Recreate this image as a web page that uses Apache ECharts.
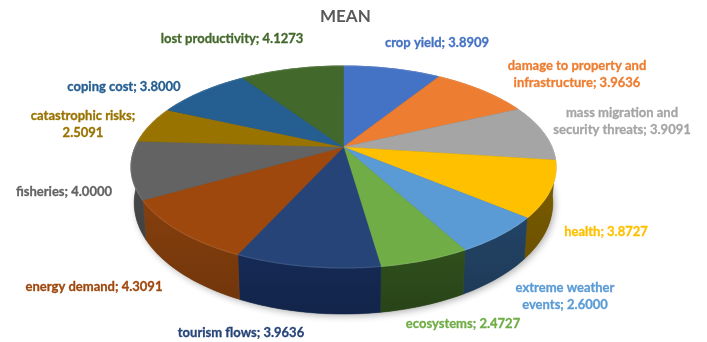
<!DOCTYPE html>
<html>
<head>
<meta charset="utf-8">
<style>html,body{margin:0;padding:0;background:#fff}#c{width:707px;height:342px;filter:blur(0.45px)}</style>
<script src="https://cdn.jsdelivr.net/npm/echarts@6/dist/echarts.min.js"></script>
</head>
<body>
<div id="c"></div>
<script>
var categories = ['crop yield','damage to property and infrastructure','mass migration and security threats','health','extreme weather events','ecosystems','tourism flows','energy demand','fisheries','catastrophic risks','coping cost','lost productivity'];
var values = [3.8909,3.9636,3.9091,3.8727,2.6000,2.4727,3.9636,4.3091,4.0000,2.5091,3.8000,4.1273];
var topColors = ['#4472C4','#ED7D31','#A5A5A5','#FFC000','#5B9BD5','#70AD47','#264478','#9E480E','#636363','#997300','#255E91','#43682B'];
var wallColors = ['#2a4a80','#8f4b1d','#5e5e5e','#7d5e00','#234466','#2f4f1c','#152a55','#853f0d','#4c4c4c','#5c4500','#163a5a','#28401a'];
var labelWrapAfter = ['','property and ','migration and ','','weather ','','','','','risks; ','',''];
var labelCenters = [[437,43],[577,74.5],[622,121],[606,232],[565,296],[463,324],[241,333],[94,287],[64,192],[83,124],[124,87],[232,39]];

var total = values.reduce(function(a,b){return a+b;},0);
var starts = []; values.reduce(function(acc,v,i){starts[i]=acc;return acc+v;},0);
var CX=343.5, RX=208.3, K=0.198, A=67.9, B=147;
function topPoint(t){
  var u=Math.sin(t), v=-Math.cos(t), w=1-K*v;
  return [CX+RX*u/w,(A*v+B)/w];
}
function basePoint(t){
  var p=topPoint(t);
  return [CX+(p[0]-CX)*0.985, p[1]+36+(p[1]-167)*0.1];
}
function arc(fn,a0,a1){
  var pts=[], n=Math.max(2,Math.ceil((a1-a0)/(Math.PI/180)));
  for(var i=0;i<=n;i++) pts.push(fn(a0+(a1-a0)*i/n));
  return pts;
}
function angles(i){
  return [starts[i]/total*2*Math.PI,(starts[i]+values[i])/total*2*Math.PI];
}
function shade(c,f){
  var n=parseInt(c.slice(1),16);
  return 'rgb('+Math.round((n>>16)*f)+','+Math.round(((n>>8)&255)*f)+','+Math.round((n&255)*f)+')';
}

var chart=echarts.init(document.getElementById('c'),null,{renderer:'canvas'});
chart.setOption({
  animation:false,
  backgroundColor:'#ffffff',
  title:{text:'MEAN',left:320,top:8,padding:0,textStyle:{fontFamily:'Lato',fontWeight:'bold',fontSize:17,color:'#595959'}},
  series:[
    {type:'custom',coordinateSystem:'none',silent:true,data:[0],z:1,
     renderItem:function(){
       return {type:'polygon',shape:{points:arc(basePoint,0,2*Math.PI)},
         style:{fill:'#555',shadowBlur:7,shadowColor:'rgba(0,0,0,0.3)',shadowOffsetX:2,shadowOffsetY:2}};
     }},
    {type:'custom',coordinateSystem:'none',silent:true,data:values,z:2,
     renderItem:function(p){
       var a=angles(p.dataIndex);
       var pts=arc(topPoint,a[0],a[1]).concat(arc(basePoint,a[0],a[1]).reverse());
       var c=wallColors[p.dataIndex];
       return {type:'polygon',shape:{points:pts},
         style:{fill:new echarts.graphic.LinearGradient(0,0,0,1,[
           {offset:0,color:c},{offset:1,color:shade(c,0.86)}]),
           stroke:c,lineWidth:0.5}};
     }},
    {type:'custom',coordinateSystem:'none',silent:true,data:values,z:3,
     renderItem:function(p){
       var a=angles(p.dataIndex), i=p.dataIndex;
       var pts=[[CX,B]].concat(arc(topPoint,a[0],a[1]));
       return {type:'group',children:[
         {type:'polygon',shape:{points:pts},style:{fill:topColors[i],stroke:topColors[i],lineWidth:0.4}},
         {type:'polyline',shape:{points:arc(topPoint,a[0],a[1])},
          style:{fill:null,stroke:echarts.color.lift(topColors[i],0.12),lineWidth:1.2,opacity:0.8}}
       ]};
     }},
    {type:'custom',coordinateSystem:'none',silent:true,data:values,z:4,
     renderItem:function(p){
       var i=p.dataIndex, t=categories[i]+'; '+values[i].toFixed(4), w=labelWrapAfter[i];
       if(w){t=t.replace(w,w.trim()+'\n');}
       return {type:'text',style:{text:t,x:labelCenters[i][0],y:labelCenters[i][1],align:'center',verticalAlign:'middle',
         fill:topColors[i],stroke:topColors[i],lineWidth:0.3,font:'bold 13px Lato',lineHeight:17}};
     }}
  ]
});
</script>
</body>
</html>
